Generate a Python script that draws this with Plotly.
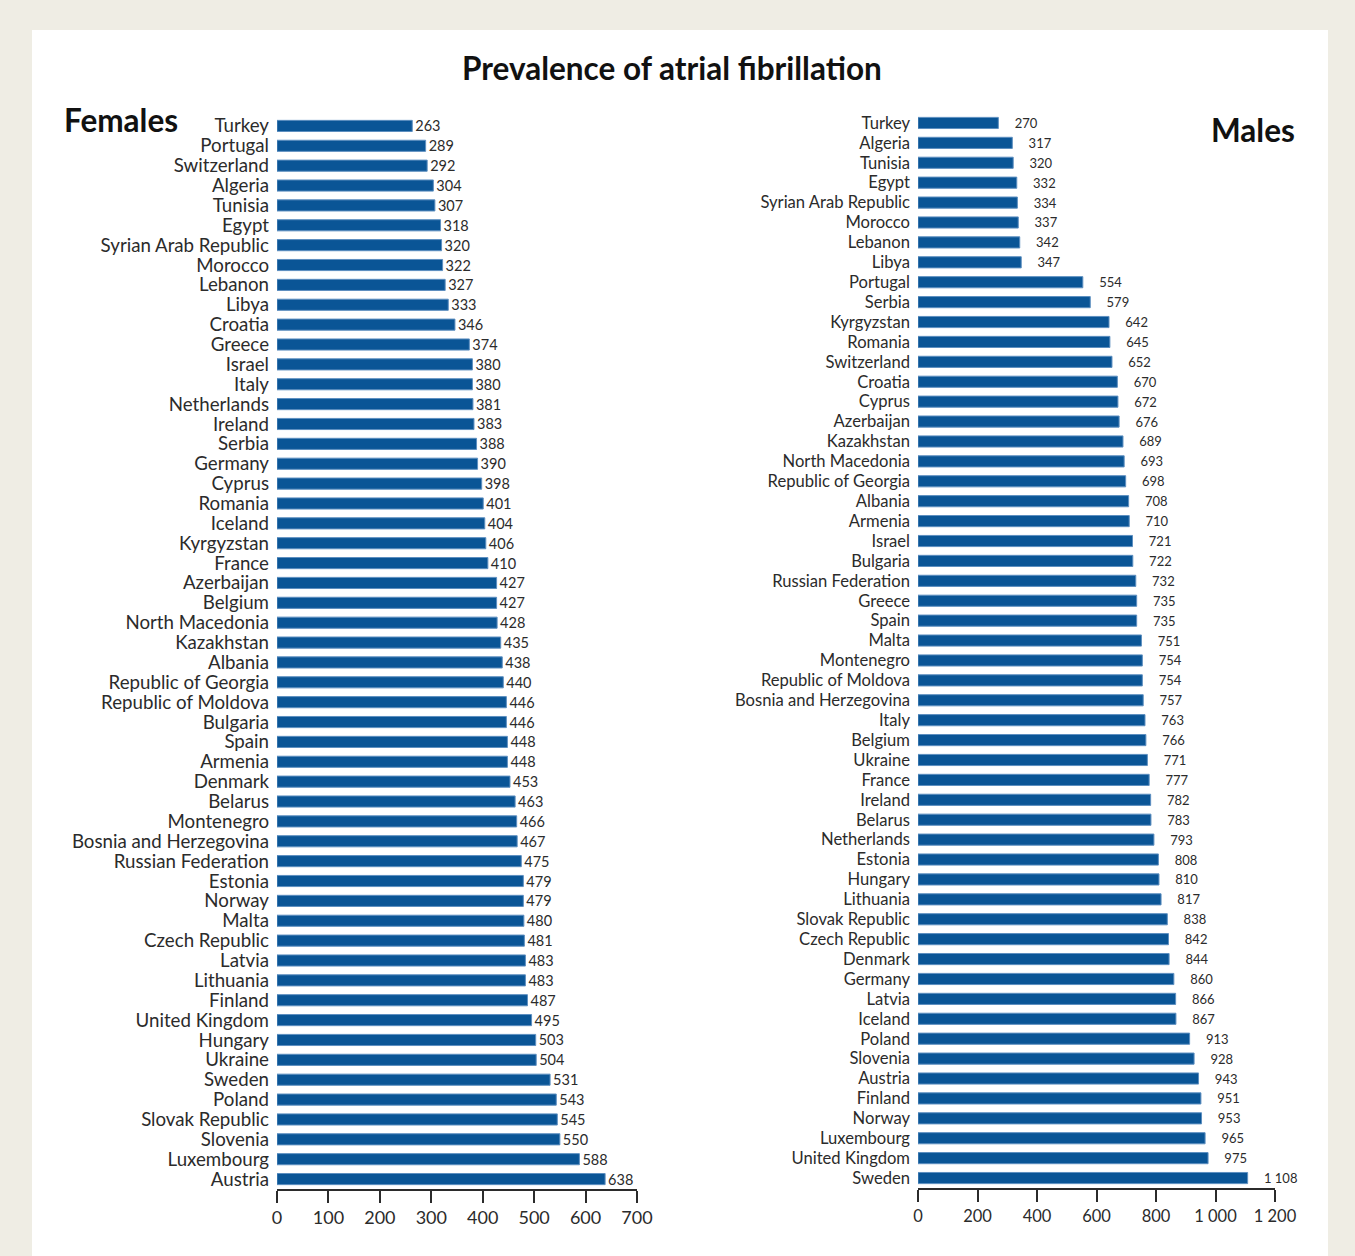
import plotly.graph_objects as go

# Females, top to bottom
female_countries = [
    'Turkey', 'Portugal', 'Switzerland', 'Algeria', 'Tunisia', 'Egypt',
    'Syrian Arab Republic', 'Morocco', 'Lebanon', 'Libya', 'Croatia', 'Greece',
    'Israel', 'Italy', 'Netherlands', 'Ireland', 'Serbia', 'Germany', 'Cyprus',
    'Romania', 'Iceland', 'Kyrgyzstan', 'France', 'Azerbaijan', 'Belgium',
    'North Macedonia', 'Kazakhstan', 'Albania', 'Republic of Georgia',
    'Republic of Moldova', 'Bulgaria', 'Spain', 'Armenia', 'Denmark', 'Belarus',
    'Montenegro', 'Bosnia and Herzegovina', 'Russian Federation', 'Estonia',
    'Norway', 'Malta', 'Czech Republic', 'Latvia', 'Lithuania', 'Finland',
    'United Kingdom', 'Hungary', 'Ukraine', 'Sweden', 'Poland',
    'Slovak Republic', 'Slovenia', 'Luxembourg', 'Austria'
]
female_values = [
    263, 289, 292, 304, 307, 318, 320, 322, 327, 333, 346, 374, 380, 380, 381,
    383, 388, 390, 398, 401, 404, 406, 410, 427, 427, 428, 435, 438, 440, 446,
    446, 448, 448, 453, 463, 466, 467, 475, 479, 479, 480, 481, 483, 483, 487,
    495, 503, 504, 531, 543, 545, 550, 588, 638
]

# Males, top to bottom
male_countries = [
    'Turkey', 'Algeria', 'Tunisia', 'Egypt', 'Syrian Arab Republic', 'Morocco',
    'Lebanon', 'Libya', 'Portugal', 'Serbia', 'Kyrgyzstan', 'Romania',
    'Switzerland', 'Croatia', 'Cyprus', 'Azerbaijan', 'Kazakhstan',
    'North Macedonia', 'Republic of Georgia', 'Albania', 'Armenia', 'Israel',
    'Bulgaria', 'Russian Federation', 'Greece', 'Spain', 'Malta', 'Montenegro',
    'Republic of Moldova', 'Bosnia and Herzegovina', 'Italy', 'Belgium',
    'Ukraine', 'France', 'Ireland', 'Belarus', 'Netherlands', 'Estonia',
    'Hungary', 'Lithuania', 'Slovak Republic', 'Czech Republic', 'Denmark',
    'Germany', 'Latvia', 'Iceland', 'Poland', 'Slovenia', 'Austria', 'Finland',
    'Norway', 'Luxembourg', 'United Kingdom', 'Sweden'
]
male_values = [
    270, 317, 320, 332, 334, 337, 342, 347, 554, 579, 642, 645, 652, 670, 672,
    676, 689, 693, 698, 708, 710, 721, 722, 732, 735, 735, 751, 754, 754, 757,
    763, 766, 771, 777, 782, 783, 793, 808, 810, 817, 838, 842, 844, 860, 866,
    867, 913, 928, 943, 951, 953, 965, 975, 1108
]

W, H = 1355, 1256
BAR = '#0a5596'
TXT = '#2b2b2b'
FONT = 'Lato'


def fmt(v):
    return f'{v:,}'.replace(',', '\u00a0')


fig = go.Figure()

fig.add_trace(go.Bar(
    x=female_values, y=female_countries, orientation='h',
    marker=dict(color=BAR, line=dict(width=1, color='#5d8fc0')),
    text=[fmt(v) for v in female_values], textposition='outside',
    constraintext='none',
    textfont=dict(size=14.5, color=TXT, family=FONT), cliponaxis=False,
    xaxis='x', yaxis='y', showlegend=False
))
fig.add_trace(go.Bar(
    x=male_values, y=male_countries, orientation='h',
    marker=dict(color=BAR, line=dict(width=1, color='#5d8fc0')),
    text=['\u00a0\u00a0\u00a0\u00a0' + fmt(v) for v in male_values],
    textposition='outside', constraintext='none',
    textfont=dict(size=13, color=TXT, family=FONT), cliponaxis=False,
    xaxis='x2', yaxis='y2', showlegend=False
))

xcommon = dict(showline=True, linecolor=TXT, linewidth=1.5, ticks='outside',
               ticklen=12, tickwidth=1.5, tickcolor=TXT, showgrid=False,
               zeroline=False, fixedrange=True, automargin=False)
ycommon = dict(type='category', autorange='reversed', showgrid=False,
               showline=False, ticks='', zeroline=False, ticklabelstandoff=7,
               tickmode='array', automargin=False, fixedrange=True)

fig.update_layout(
    width=W, height=H,
    margin=dict(l=0, r=0, t=0, b=0, autoexpand=False),
    paper_bgcolor='#efede4', plot_bgcolor='rgba(0,0,0,0)',
    font=dict(family=FONT, color=TXT),
    bargap=0.44,
    separators='.\u00a0',
    xaxis=dict(**xcommon, domain=[277 / W, 637 / W], range=[0, 700], dtick=100,
               anchor='y', tickfont=dict(size=18, color=TXT)),
    yaxis=dict(**ycommon, domain=[1 - 1189 / H, 1 - 116 / H], anchor='x',
               tickvals=female_countries, ticktext=female_countries,
               tickfont=dict(size=18.7, color=TXT)),
    xaxis2=dict(**xcommon, domain=[918 / W, 1275 / W], range=[0, 1200],
                dtick=200, tickformat=',', anchor='y2',
                tickfont=dict(size=16.5, color=TXT)),
    yaxis2=dict(**ycommon, domain=[1 - 1188 / H, 1 - 113 / H], anchor='x2',
                tickvals=male_countries, ticktext=male_countries,
                tickfont=dict(size=16.6, color=TXT)),
    shapes=[dict(type='rect', xref='paper', yref='paper', layer='below',
                 x0=32 / W, x1=1328 / W, y0=0, y1=1 - 30 / H,
                 fillcolor='white', line=dict(width=0))],
    annotations=[
        dict(text='<b>Prevalence of atrial fibrillation</b>', xref='paper',
             yref='paper', x=672 / W, y=1 - 68 / H, yanchor='middle',
             showarrow=False,
             font=dict(size=31.5, color='#111111', family=FONT)),
        dict(text='<b>Females</b>', xref='paper', yref='paper',
             x=62 / W, y=1 - 120 / H, xanchor='left', yanchor='middle',
             showarrow=False,
             font=dict(size=31.5, color='#111111', family=FONT)),
        dict(text='<b>Males</b>', xref='paper', yref='paper',
             x=1297 / W, y=1 - 130 / H, xanchor='right', yanchor='middle',
             showarrow=False,
             font=dict(size=31.5, color='#111111', family=FONT)),
    ],
)

fig.write_html(
    'out.html',
    config={'displayModeBar': False},
    post_script=(
        "document.body.style.margin='0';"
        "document.body.style.overflow='hidden';"
        "Plotly.relayout('{plot_id}', {width: 1355, height: 1256});"
    ),
)
